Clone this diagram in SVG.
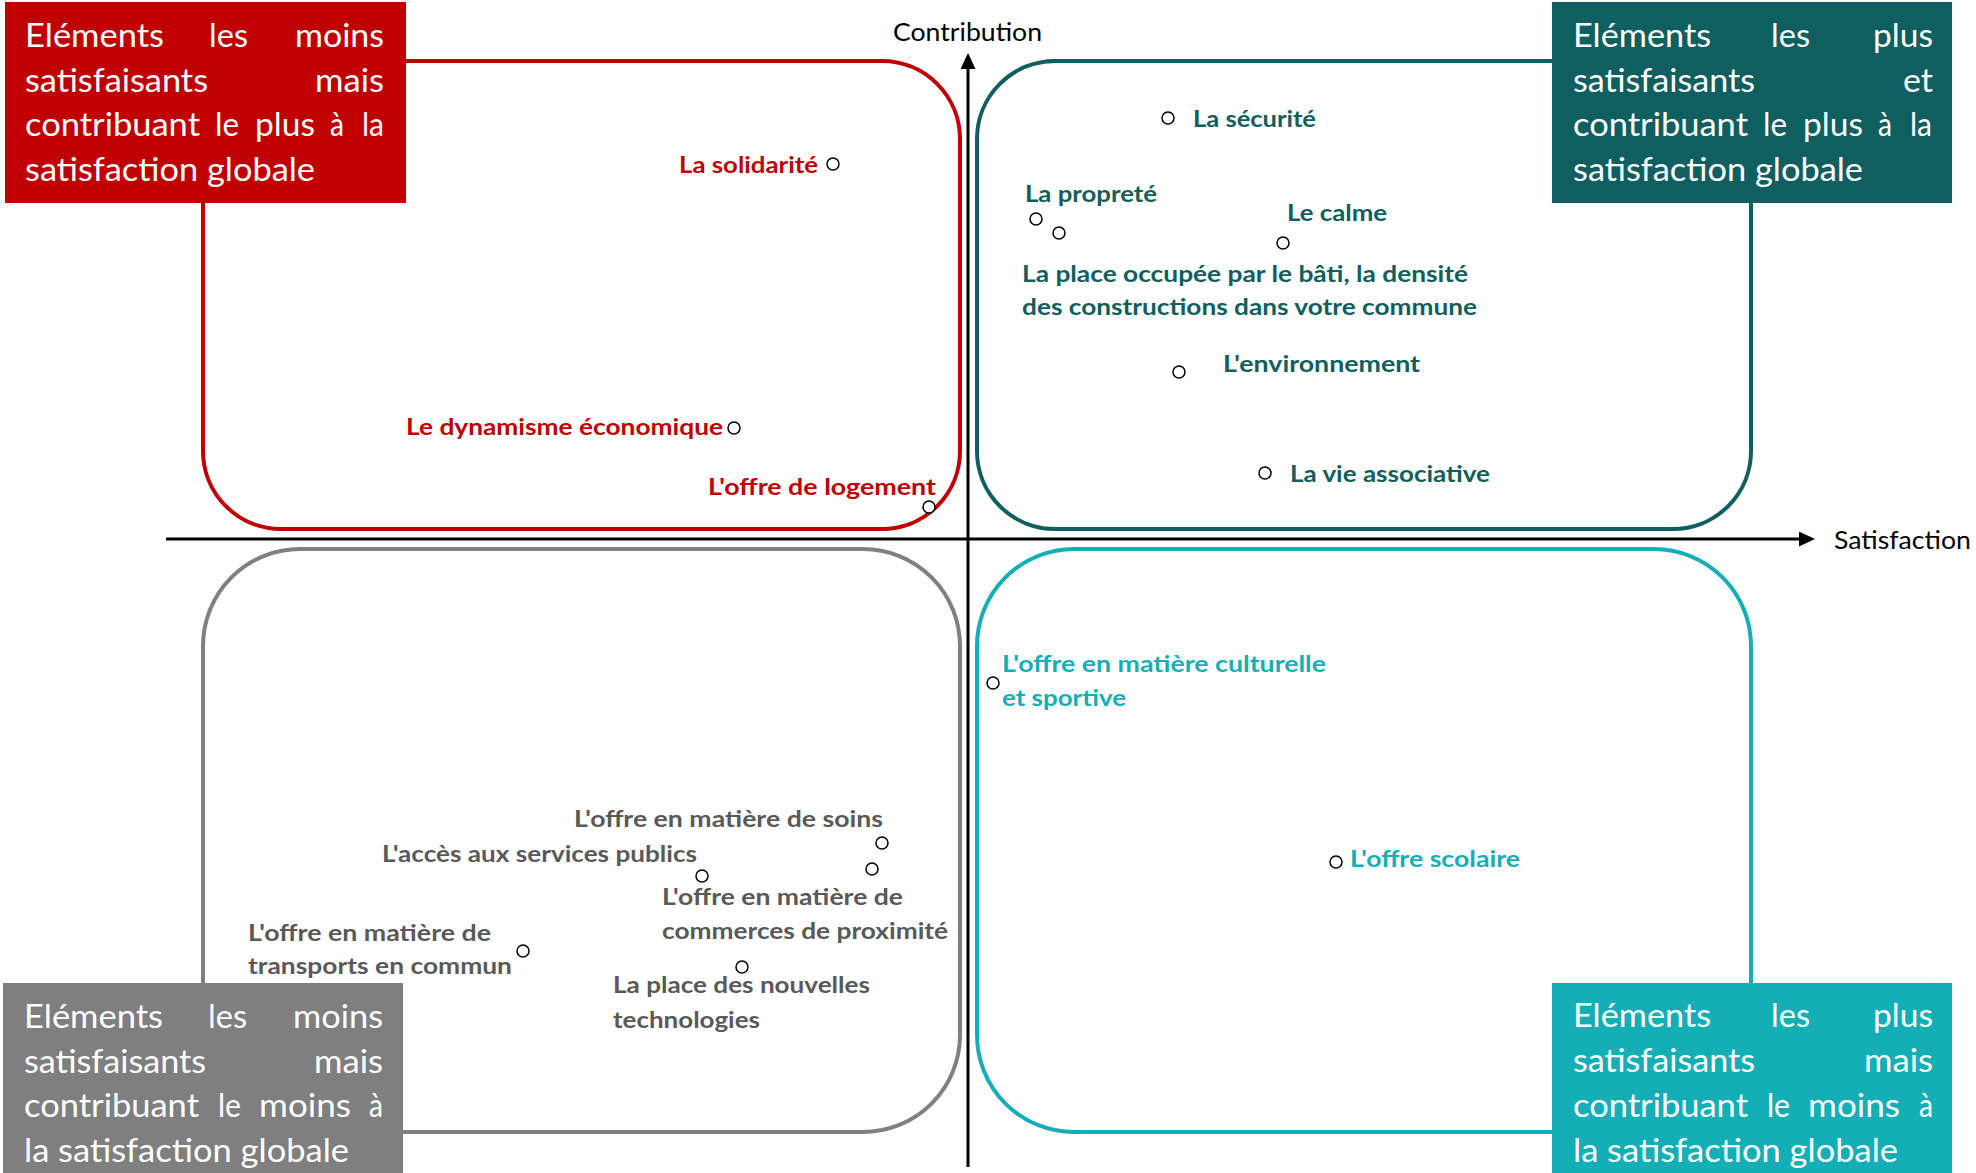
<svg xmlns="http://www.w3.org/2000/svg" width="1976" height="1173" viewBox="0 0 1976 1173">
<defs>
<style>
.quad{fill:none;stroke-width:4}
.lbl{font-family:Lato,"Open Sans","Liberation Sans",sans-serif;font-size:32px;fill:#ffffff}
.dl{font-family:Lato,"Open Sans","Liberation Sans",sans-serif;font-size:23px;font-weight:bold}
.ax{font-family:Lato,"Open Sans","Liberation Sans",sans-serif;font-size:25px;fill:#000000}
.pt{fill:#ffffff;stroke:#000000;stroke-width:1.5}
.red{fill:#C00000}
.dk{fill:#0F5E60}
.gr{fill:#595959}
.lt{fill:#14AFB6}
.axis{stroke:#000000;stroke-width:3;fill:none}
</style>
<marker id="arr" viewBox="0 0 16 15" refX="4" refY="7.5" markerWidth="16" markerHeight="15" markerUnits="userSpaceOnUse" orient="auto">
<path d="M0,0 L16,7.5 L0,15 z" fill="#000000"/>
</marker>
</defs>
<rect x="0" y="0" width="1976" height="1173" fill="#ffffff"/>

<g id="quadrant-red">
<rect class="quad" x="203" y="61" width="757" height="468" rx="78" ry="78" stroke="#C00000"/>
</g>
<g id="quadrant-darkteal">
<rect class="quad" x="977" y="61" width="774" height="468" rx="78" ry="78" stroke="#0F5E60"/>
</g>
<g id="quadrant-grey">
<rect class="quad" x="203" y="549" width="757" height="583" rx="97" ry="97" stroke="#808080"/>
</g>
<g id="quadrant-lightteal">
<rect class="quad" x="977" y="549" width="774" height="583" rx="97" ry="97" stroke="#14AFB6"/>
</g>

<g id="connectors">
<line class="axis" x1="968" y1="1167" x2="968" y2="65" marker-end="url(#arr)"/>
<line class="axis" x1="166" y1="539" x2="1803" y2="539" marker-end="url(#arr)"/>
</g>

<g id="axis-labels">
<text class="ax" x="893" y="41" textLength="149" lengthAdjust="spacingAndGlyphs">Contribution</text>
<text class="ax" x="1834" y="549" textLength="137" lengthAdjust="spacingAndGlyphs">Satisfaction</text>
</g>

<g id="label-red">
<rect x="5" y="2" width="401" height="201" fill="#C00000"/>
<text class="lbl" x="25" y="47" textLength="139" lengthAdjust="spacingAndGlyphs">Eléments</text>
<text class="lbl" x="209" y="47" textLength="39" lengthAdjust="spacingAndGlyphs">les</text>
<text class="lbl" x="295" y="47" textLength="89" lengthAdjust="spacingAndGlyphs">moins</text>
<text class="lbl" x="25" y="92" textLength="183" lengthAdjust="spacingAndGlyphs">satisfaisants</text>
<text class="lbl" x="315" y="92" textLength="69" lengthAdjust="spacingAndGlyphs">mais</text>
<text class="lbl" x="25" y="136" textLength="175" lengthAdjust="spacingAndGlyphs">contribuant</text>
<text class="lbl" x="215" y="136" textLength="24" lengthAdjust="spacingAndGlyphs">le</text>
<text class="lbl" x="255" y="136" textLength="60" lengthAdjust="spacingAndGlyphs">plus</text>
<text class="lbl" x="330" y="136" textLength="14" lengthAdjust="spacingAndGlyphs">à</text>
<text class="lbl" x="362" y="136" textLength="22" lengthAdjust="spacingAndGlyphs">la</text>
<text class="lbl" x="25" y="181" textLength="290" lengthAdjust="spacingAndGlyphs">satisfaction globale</text>
</g>

<g id="label-darkteal">
<rect x="1552" y="2" width="400" height="201" fill="#0F5E60"/>
<text class="lbl" x="1573" y="47" textLength="138" lengthAdjust="spacingAndGlyphs">Eléments</text>
<text class="lbl" x="1771" y="47" textLength="39" lengthAdjust="spacingAndGlyphs">les</text>
<text class="lbl" x="1873" y="47" textLength="60" lengthAdjust="spacingAndGlyphs">plus</text>
<text class="lbl" x="1573" y="92" textLength="182" lengthAdjust="spacingAndGlyphs">satisfaisants</text>
<text class="lbl" x="1903" y="92" textLength="30" lengthAdjust="spacingAndGlyphs">et</text>
<text class="lbl" x="1573" y="136" textLength="175" lengthAdjust="spacingAndGlyphs">contribuant</text>
<text class="lbl" x="1763" y="136" textLength="24" lengthAdjust="spacingAndGlyphs">le</text>
<text class="lbl" x="1803" y="136" textLength="60" lengthAdjust="spacingAndGlyphs">plus</text>
<text class="lbl" x="1878" y="136" textLength="14" lengthAdjust="spacingAndGlyphs">à</text>
<text class="lbl" x="1910" y="136" textLength="22" lengthAdjust="spacingAndGlyphs">la</text>
<text class="lbl" x="1573" y="181" textLength="290" lengthAdjust="spacingAndGlyphs">satisfaction globale</text>
</g>

<g id="label-grey">
<rect x="3" y="983" width="400" height="190" fill="#7F7F7F"/>
<text class="lbl" x="24" y="1028" textLength="139" lengthAdjust="spacingAndGlyphs">Eléments</text>
<text class="lbl" x="208" y="1028" textLength="39" lengthAdjust="spacingAndGlyphs">les</text>
<text class="lbl" x="293" y="1028" textLength="90" lengthAdjust="spacingAndGlyphs">moins</text>
<text class="lbl" x="24" y="1073" textLength="182" lengthAdjust="spacingAndGlyphs">satisfaisants</text>
<text class="lbl" x="314" y="1073" textLength="69" lengthAdjust="spacingAndGlyphs">mais</text>
<text class="lbl" x="24" y="1117" textLength="175" lengthAdjust="spacingAndGlyphs">contribuant</text>
<text class="lbl" x="218" y="1117" textLength="23" lengthAdjust="spacingAndGlyphs">le</text>
<text class="lbl" x="259" y="1117" textLength="92" lengthAdjust="spacingAndGlyphs">moins</text>
<text class="lbl" x="369" y="1117" textLength="14" lengthAdjust="spacingAndGlyphs">à</text>
<text class="lbl" x="24" y="1162" textLength="325" lengthAdjust="spacingAndGlyphs">la satisfaction globale</text>
</g>

<g id="label-lightteal">
<rect x="1552" y="983" width="400" height="190" fill="#14AFB6"/>
<text class="lbl" x="1573" y="1027" textLength="138" lengthAdjust="spacingAndGlyphs">Eléments</text>
<text class="lbl" x="1771" y="1027" textLength="39" lengthAdjust="spacingAndGlyphs">les</text>
<text class="lbl" x="1873" y="1027" textLength="60" lengthAdjust="spacingAndGlyphs">plus</text>
<text class="lbl" x="1573" y="1072" textLength="182" lengthAdjust="spacingAndGlyphs">satisfaisants</text>
<text class="lbl" x="1864" y="1072" textLength="69" lengthAdjust="spacingAndGlyphs">mais</text>
<text class="lbl" x="1573" y="1117" textLength="175" lengthAdjust="spacingAndGlyphs">contribuant</text>
<text class="lbl" x="1767" y="1117" textLength="23" lengthAdjust="spacingAndGlyphs">le</text>
<text class="lbl" x="1808" y="1117" textLength="92" lengthAdjust="spacingAndGlyphs">moins</text>
<text class="lbl" x="1919" y="1117" textLength="14" lengthAdjust="spacingAndGlyphs">à</text>
<text class="lbl" x="1573" y="1162" textLength="325" lengthAdjust="spacingAndGlyphs">la satisfaction globale</text>
</g>

<g id="pt-solidarite"><circle class="pt" cx="833" cy="164" r="6"/><text class="dl red" x="679" y="173" textLength="139" lengthAdjust="spacingAndGlyphs">La solidarité</text></g>
<g id="pt-dynamisme"><circle class="pt" cx="734" cy="428" r="6"/><text class="dl red" x="406" y="435" textLength="317" lengthAdjust="spacingAndGlyphs">Le dynamisme économique</text></g>
<g id="pt-logement"><circle class="pt" cx="929" cy="507" r="6"/><text class="dl red" x="708" y="495" textLength="228" lengthAdjust="spacingAndGlyphs">L'offre de logement</text></g>

<g id="pt-securite"><circle class="pt" cx="1168" cy="118" r="6"/><text class="dl dk" x="1193" y="127" textLength="123" lengthAdjust="spacingAndGlyphs">La sécurité</text></g>
<g id="pt-proprete"><circle class="pt" cx="1036" cy="219" r="6"/><text class="dl dk" x="1025" y="202" textLength="132" lengthAdjust="spacingAndGlyphs">La propreté</text></g>
<g id="pt-bati"><circle class="pt" cx="1059" cy="233" r="6"/><text class="dl dk" x="1022" y="282" textLength="446" lengthAdjust="spacingAndGlyphs">La place occupée par le bâti, la densité</text><text class="dl dk" x="1022" y="315" textLength="455" lengthAdjust="spacingAndGlyphs">des constructions dans votre commune</text></g>
<g id="pt-calme"><circle class="pt" cx="1283" cy="243" r="6"/><text class="dl dk" x="1287" y="221" textLength="100" lengthAdjust="spacingAndGlyphs">Le calme</text></g>
<g id="pt-environnement"><circle class="pt" cx="1179" cy="372" r="6"/><text class="dl dk" x="1223" y="372" textLength="197" lengthAdjust="spacingAndGlyphs">L'environnement</text></g>
<g id="pt-associative"><circle class="pt" cx="1265" cy="473" r="6"/><text class="dl dk" x="1290" y="482" textLength="200" lengthAdjust="spacingAndGlyphs">La vie associative</text></g>

<g id="pt-soins"><circle class="pt" cx="882" cy="843" r="6"/><text class="dl gr" x="574" y="827" textLength="309" lengthAdjust="spacingAndGlyphs">L'offre en matière de soins</text></g>
<g id="pt-services"><circle class="pt" cx="702" cy="876" r="6"/><text class="dl gr" x="382" y="862" textLength="315" lengthAdjust="spacingAndGlyphs">L'accès aux services publics</text></g>
<g id="pt-commerces"><circle class="pt" cx="872" cy="869" r="6"/><text class="dl gr" x="662" y="905" textLength="241" lengthAdjust="spacingAndGlyphs">L'offre en matière de</text><text class="dl gr" x="662" y="939" textLength="286" lengthAdjust="spacingAndGlyphs">commerces de proximité</text></g>
<g id="pt-transports"><circle class="pt" cx="523" cy="951" r="6"/><text class="dl gr" x="248" y="941" textLength="243" lengthAdjust="spacingAndGlyphs">L'offre en matière de</text><text class="dl gr" x="248" y="974" textLength="264" lengthAdjust="spacingAndGlyphs">transports en commun</text></g>
<g id="pt-technologies"><circle class="pt" cx="742" cy="967" r="6"/><text class="dl gr" x="613" y="993" textLength="257" lengthAdjust="spacingAndGlyphs">La place des nouvelles</text><text class="dl gr" x="613" y="1028" textLength="147" lengthAdjust="spacingAndGlyphs">technologies</text></g>

<g id="pt-culturelle"><circle class="pt" cx="993" cy="683" r="6"/><text class="dl lt" x="1002" y="672" textLength="324" lengthAdjust="spacingAndGlyphs">L'offre en matière culturelle</text><text class="dl lt" x="1002" y="706" textLength="124" lengthAdjust="spacingAndGlyphs">et sportive</text></g>
<g id="pt-scolaire"><circle class="pt" cx="1336" cy="862" r="6"/><text class="dl lt" x="1350" y="867" textLength="170" lengthAdjust="spacingAndGlyphs">L'offre scolaire</text></g>
</svg>
